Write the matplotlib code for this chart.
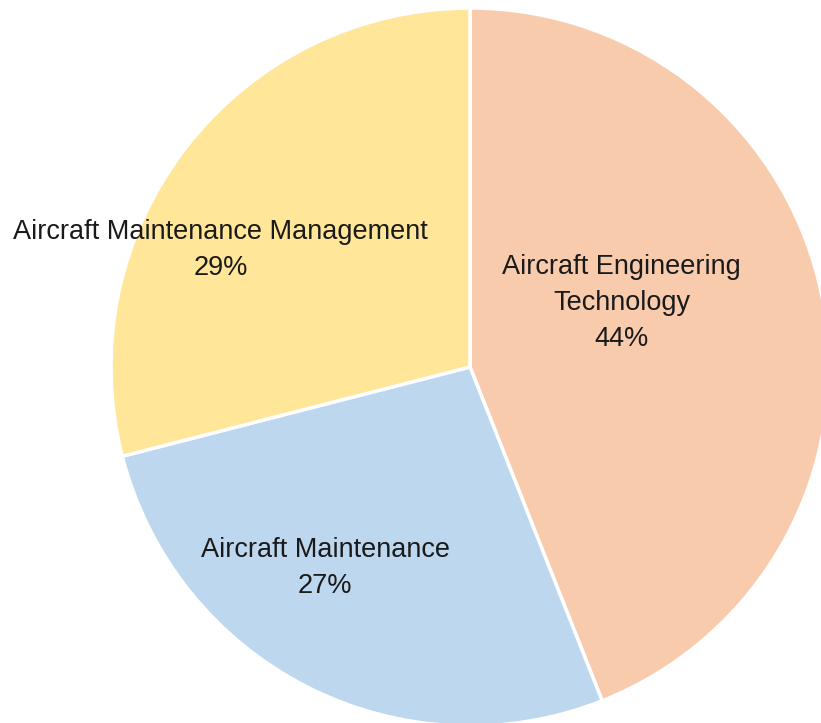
import matplotlib
matplotlib.use('Agg')
import matplotlib.pyplot as plt

# データ
labels = ["Aircraft Engineering\nTechnology", "Aircraft Maintenance",
          "Aircraft Maintenance Management"]
values = [44, 27, 29]
colors = ["#F8CBAD", "#BDD7EE", "#FFE699"]

# ラベル位置（半径1基準）
label_pos = [(0.423, 0.177), (-0.403, -0.560), (-0.695, 0.325)]

plt.rcParams['font.family'] = ['Liberation Sans', 'DejaVu Sans']

fig = plt.figure(figsize=(8.21, 7.23), dpi=100)
ax = fig.add_axes([0, 0, 1, 1])
ax.pie(values, colors=colors, startangle=90, counterclock=False,
       radius=1.0, center=(0, 0),
       wedgeprops=dict(edgecolor="white", linewidth=2.5))

total = sum(values)
for lab, v, (x, y) in zip(labels, values, label_pos):
    ax.text(x, y, lab + "\n" + "{:.0f}%".format(100.0 * v / total),
            ha="center", va="center", fontsize=19.5, color="#1a1a1a",
            linespacing=1.5)

r_px = 359
ax.set_xlim(-470 / r_px, (821 - 470) / r_px)
ax.set_ylim(-(723 - 367) / r_px, 367 / r_px)
ax.set_aspect("equal")
ax.axis("off")

fig.savefig("out.png", dpi=100)
